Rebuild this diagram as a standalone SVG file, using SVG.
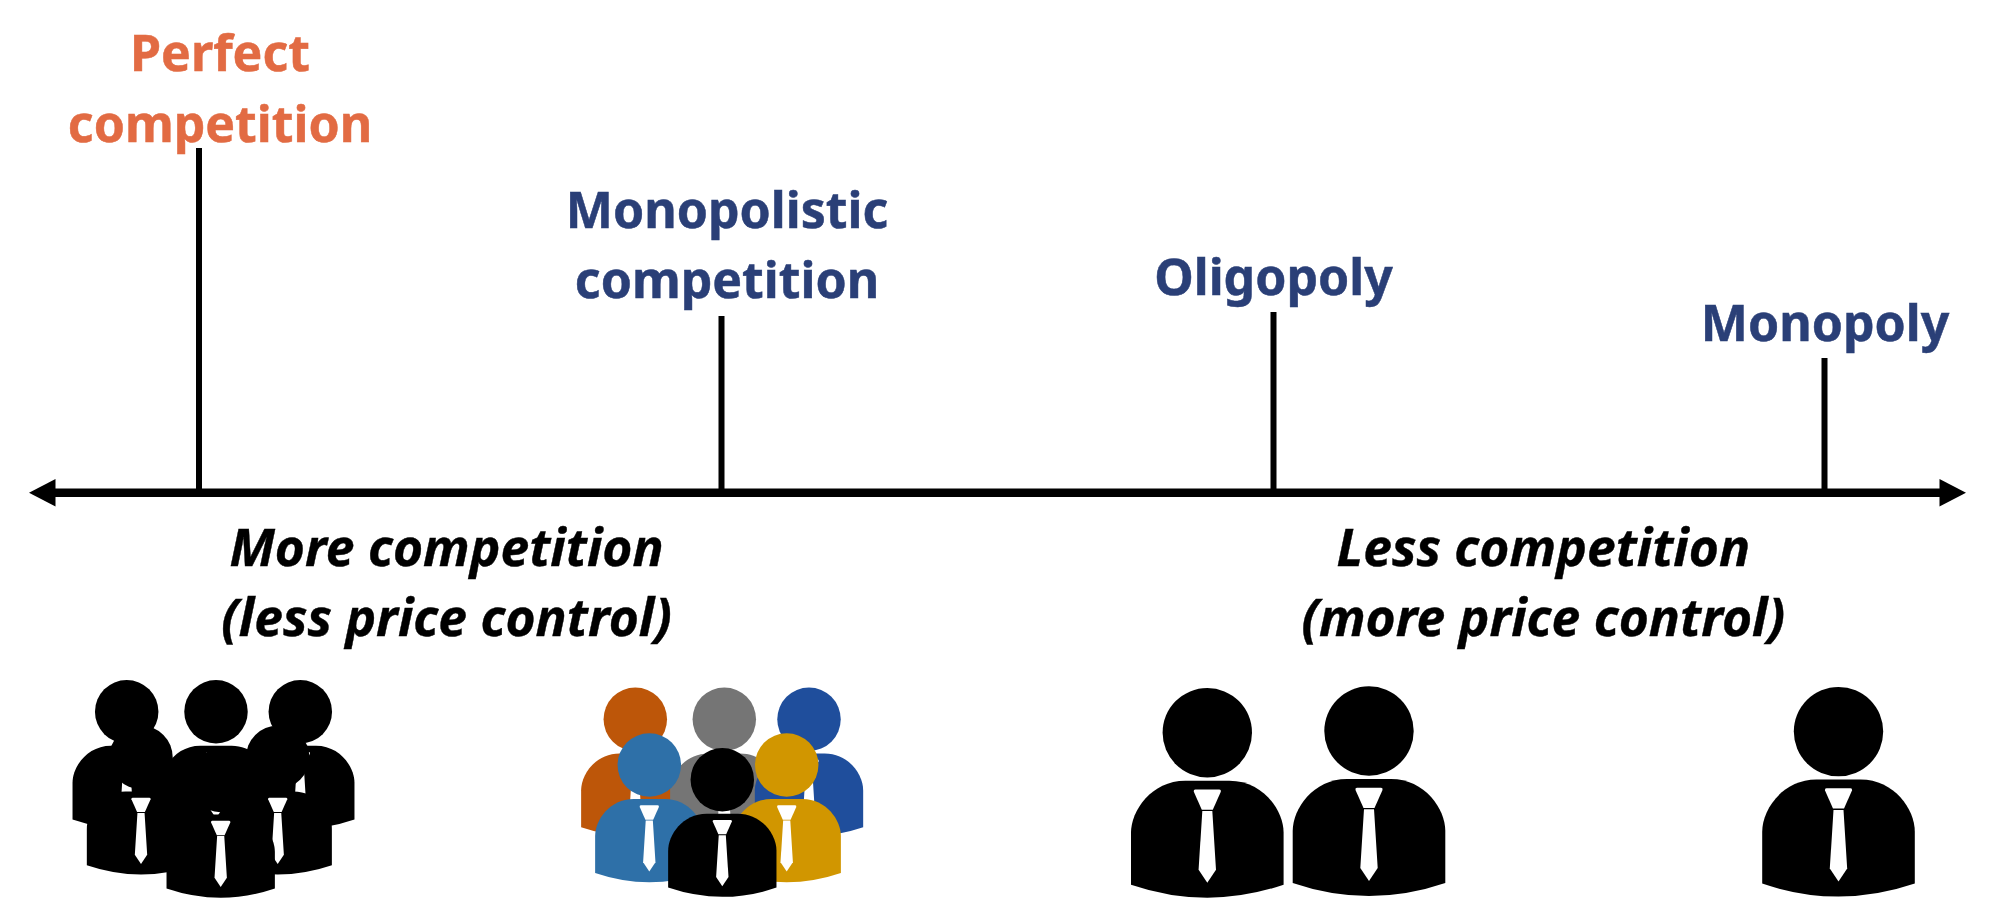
<svg xmlns="http://www.w3.org/2000/svg" width="1995" height="899" viewBox="0 0 1995 899">
<style>
text{font-family:"Noto Sans","Open Sans",sans-serif;font-weight:700;text-anchor:middle;font-variant-ligatures:none}
.h{font-size:50px;fill:#2a3f77;stroke:#2a3f77;stroke-width:.5px}
.o{font-size:50px;fill:#e26b43;stroke:#e26b43;stroke-width:.5px}
.n{font-size:51.6px;fill:#000;font-style:italic;stroke:#000;stroke-width:.4px}
.tick{stroke:#000;stroke-width:6;fill:none}
.axis{stroke:#000;stroke-width:8.5;fill:none}
</style>
<defs>
<g id="tie"><path fill="#fff" d="M-12,56.7H12Q14,56.7 13.5,59L5.5,77H-5.5L-13.5,59Q-14,56.7 -12,56.7Z"/><path fill="#fff" d="M-5,78.3H5L8.7,137L0,150L-8.7,137Z"/></g>
<path id="body" d="M-76.3,152V100C-76.3,78 -56,48 -22,48H22C56,48 76.3,78 76.3,100V152Q0,178 -76.3,152Z"/>
<g id="person"><circle cx="0" cy="0" r="44.7"/><use href="#body"/><use href="#tie"/></g>
</defs>
<rect width="1995" height="899" fill="#fff"/>
<g id="connectors">
<line class="axis" x1="50" y1="492.7" x2="1945" y2="492.7"/>
<path d="M29,492.7L55.5,479V506.5Z"/>
<path d="M1966,492.7L1939.5,479V506.5Z"/>
<line class="tick" x1="199" y1="148" x2="199" y2="490"/>
<line class="tick" x1="721.5" y1="316" x2="721.5" y2="490"/>
<line class="tick" x1="1273.5" y1="312" x2="1273.5" y2="490"/>
<line class="tick" x1="1824.5" y1="358" x2="1824.5" y2="490"/>
</g>
<g id="perfect-competition"><text class="o" x="220" y="71">Perfect</text><text class="o" x="220" y="142">competition</text></g>
<g id="monopolistic-competition"><text class="h" x="727" y="228">Monopolistic</text><text class="h" x="727" y="298">competition</text></g>
<g id="oligopoly"><text class="h" x="1273.5" y="294.5">Oligopoly</text></g>
<g id="monopoly"><text class="h" x="1825" y="341">Monopoly</text></g>
<g id="more-competition"><text class="n" x="446.6" y="566">More competition</text><text class="n" x="446.6" y="636">(less price control)</text></g>
<g id="less-competition"><text class="n" x="1543.3" y="566">Less competition</text><text class="n" x="1543.3" y="636">(more price control)</text></g>
<g id="group-many">
<use href="#person" transform="translate(126.7 711.7) scale(.71)"/>
<use href="#person" transform="translate(216 711.7) scale(.71)"/>
<use href="#person" transform="translate(300.3 711.7) scale(.71)"/>
<use href="#person" transform="translate(141 757.4) scale(.71)"/>
<use href="#person" transform="translate(277.7 757.4) scale(.71)"/>
<use href="#person" transform="translate(220.7 780.5) scale(.71)"/>
</g>
<g id="group-coloured">
<use href="#person" fill="#bd5609" transform="translate(635.3 719.3) scale(.71)"/>
<use href="#person" fill="#757575" transform="translate(724.3 719.3) scale(.71)"/>
<use href="#person" fill="#1f4e9c" transform="translate(809 719.3) scale(.71)"/>
<use href="#person" fill="#2e70a8" transform="translate(649.3 765) scale(.71)"/>
<use href="#person" fill="#d19600" transform="translate(786.7 765) scale(.71)"/>
<use href="#person" fill="#000" transform="translate(722.3 779.7) scale(.71)"/>
</g>
<g id="group-two">
<use href="#person" transform="translate(1207.3 732.7)"/>
<use href="#person" transform="translate(1369 731)"/>
</g>
<g id="group-one"><use href="#person" transform="translate(1838.5 731.6)"/></g>
</svg>
